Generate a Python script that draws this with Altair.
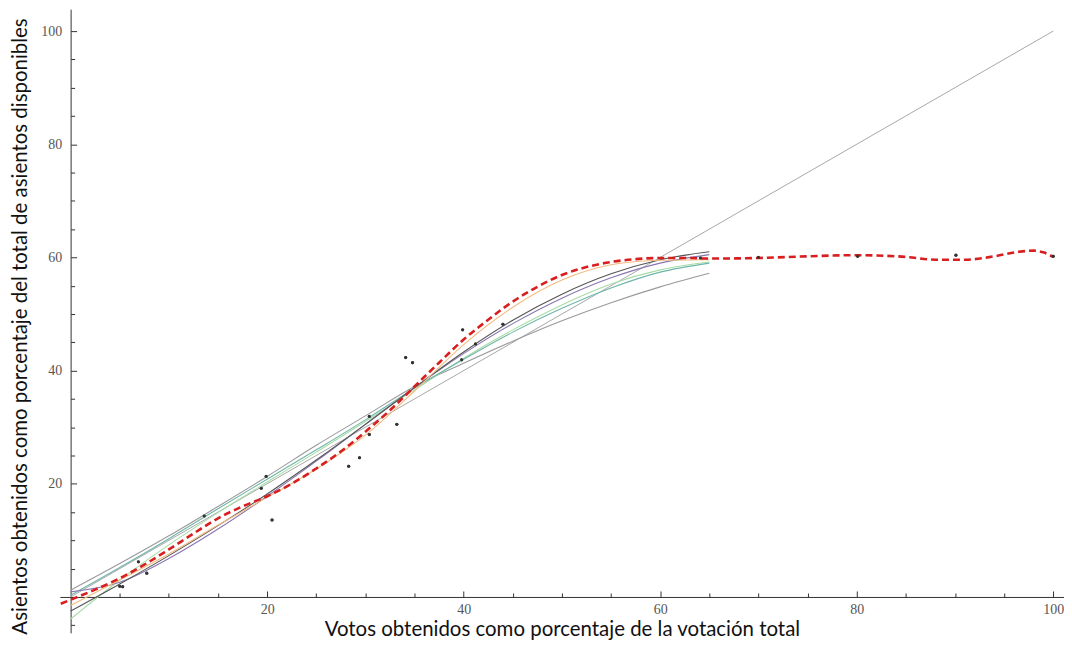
import altair as alt
import pandas as pd

# ---------------- data ----------------
point_x = [5.0, 5.3, 6.9, 7.75, 13.6, 19.4, 19.9, 20.5, 28.3, 29.4, 30.4, 30.4, 33.2,
           34.1, 34.8, 39.8, 39.9, 41.2, 44.0, 64.1, 70.0, 80.1, 90.1, 100.0]
point_y = [1.9, 1.8, 6.2, 4.2, 14.3, 19.2, 21.3, 13.6, 23.1, 24.6, 28.7, 31.9, 30.5,
           42.3, 41.4, 41.9, 47.2, 44.7, 48.2, 59.9, 60.0, 60.2, 60.4, 60.2]

diag_x = [0, 100]
diag_y = [0, 100]

fit_x = [0, 5, 10, 15, 20, 25, 30, 35, 40, 45, 50, 55, 60, 65]
fit_gray = [1.2, 5.9, 10.8, 16.0, 21.3, 26.8, 32.0, 37.2, 41.3, 45.2, 48.8, 52.0, 54.8, 57.2]
fit_green = [-3.9, 3.0, 9.2, 14.9, 20.3, 25.6, 31.0, 36.6, 42.2, 47.2, 51.6, 55.3, 57.8, 59.2]
fit_teal = [0.3, 5.2, 10.3, 15.6, 20.8, 26.0, 31.3, 36.9, 42.0, 46.8, 51.0, 54.6, 57.4, 59.0]
fit_purple = [0.9, 2.6, 6.8, 12.0, 17.8, 24.0, 30.5, 37.0, 43.0, 48.3, 52.8, 56.4, 59.0, 60.5]
fit_dark = [-2.5, 2.3, 7.3, 12.6, 18.2, 24.2, 30.5, 37.0, 43.3, 48.9, 53.5, 57.1, 59.6, 61.0]
fit_orange = [-1.5, 3.0, 7.6, 12.7, 17.6, 22.6, 28.6, 36.4, 44.6, 51.2, 56.0, 58.7, 59.5, 59.6]

red_x = [-1, 0, 2.5, 5, 7.5, 10, 12.5, 15, 17.5, 20, 22.5, 25, 27.5, 30, 32.5, 35, 37.5,
         40, 42.5, 45, 47.5, 50, 52.5, 55, 57.5, 60, 62.5, 65, 70, 75, 80, 85, 88, 91,
         94, 96.5, 98, 99, 100]
red_y = [-1.2, -0.5, 1.3, 3.3, 5.7, 8.4, 11.2, 13.9, 16.0, 17.8, 20.0, 22.7, 25.7, 29.2,
         33.0, 37.2, 41.4, 45.5, 49.0, 52.2, 54.8, 56.9, 58.3, 59.2, 59.7, 59.9, 59.9,
         59.8, 59.9, 60.2, 60.4, 60.1, 59.6, 59.6, 60.2, 61.0, 61.2, 60.9, 60.1]

x_ticks = list(range(5, 101, 5))
x_labels = [20, 40, 60, 80, 100]
y_ticks = list(range(-5, 101, 5))
y_labels = [20, 40, 60, 80, 100]

X_TITLE = "Votos obtenidos como porcentaje de la votación total"
Y_TITLE = "Asientos obtenidos como porcentaje del total de asientos disponibles"

# ---------------- layout ----------------
W, H = 1008, 626
X_DOMAIN = [-1.1, 101.1]
Y_DOMAIN = [-6.34, 103.87]
x0_px = (0 - X_DOMAIN[0]) / (X_DOMAIN[1] - X_DOMAIN[0]) * W
y0_px = (Y_DOMAIN[1] - 0) / (Y_DOMAIN[1] - Y_DOMAIN[0]) * H
TITLE_SIZE = 20.5

xs = alt.Scale(domain=X_DOMAIN, nice=False, zero=False)
ys = alt.Scale(domain=Y_DOMAIN, nice=False, zero=False)

tick_size = {"condition": {"test": "datum.value % 20 === 0", "value": 6}, "value": 4}

points_df = pd.DataFrame({"x": point_x, "y": point_y})
diag_df = pd.DataFrame({"x": diag_x, "y": diag_y})

series = [("gray", fit_gray), ("green", fit_green), ("teal", fit_teal),
          ("purple", fit_purple), ("dark", fit_dark), ("orange", fit_orange)]
rows = []
for name, vals in series:
    for xv, yv in zip(fit_x, vals):
        rows.append({"x": xv, "y": yv, "serie": name})
fits_df = pd.DataFrame(rows)
red_df = pd.DataFrame({"x": red_x, "y": red_y})

# labels axis layer (bottom / left), placed on the zero lines
label_layer = alt.Chart(points_df).mark_circle(size=9, color="#333333", opacity=1).encode(
    x=alt.X("x:Q", scale=xs, axis=alt.Axis(
        orient="bottom", offset=-(H - y0_px), values=x_labels, ticks=False, domain=False,
        grid=False, labelFont="Liberation Serif", labelFontSize=14, labelColor="#555555",
        labelPadding=6, title=X_TITLE, titleFont="Lato", titleFontSize=TITLE_SIZE,
        titleFontWeight="normal", titleColor="#111111", titleX=504,
        titleY=(631 - 598), titleBaseline="middle", titleAlign="center")),
    y=alt.Y("y:Q", scale=ys, axis=alt.Axis(
        orient="left", offset=-x0_px, values=y_labels, ticks=False, domain=False,
        grid=False, labelFont="Liberation Serif", labelFontSize=14, labelColor="#555555",
        labelPadding=9, title=Y_TITLE, titleFont="Lato", titleFontSize=TITLE_SIZE,
        titleFontWeight="normal", titleColor="#111111", titleX=21 - (60 + x0_px),
        titleY=326 - 8, titleBaseline="middle", titleAlign="center", titleAngle=270)),
)

# ticks + axis lines layer (top / right orient so ticks point into the plot)
tick_layer = alt.Chart(diag_df).mark_line(color="#a8a8a8", strokeWidth=1).encode(
    x=alt.X("x:Q", scale=xs, axis=alt.Axis(
        orient="top", offset=-y0_px, values=x_ticks, labels=False, ticks=True,
        tickSize=tick_size, tickColor="#333333", domain=True, domainColor="#333333",
        grid=False, title="")),
    y=alt.Y("y:Q", scale=ys, axis=alt.Axis(
        orient="right", offset=-(W - x0_px), values=y_ticks, labels=False, ticks=True,
        tickSize=tick_size, tickColor="#333333", domain=True, domainColor="#333333",
        grid=False, title="")),
)

fits = alt.Chart(fits_df).mark_line(strokeWidth=1.1, interpolate="monotone").encode(
    x=alt.X("x:Q", scale=xs, axis=None),
    y=alt.Y("y:Q", scale=ys, axis=None),
    color=alt.Color("serie:N", legend=None, scale=alt.Scale(
        domain=["gray", "green", "teal", "purple", "dark", "orange"],
        range=["#9a9a9a", "#a6dca6", "#6fb5aa", "#8a76b2", "#555555", "#f3bb80"])),
    detail="serie:N",
)

red = alt.Chart(red_df).mark_line(color="#d81e1e", strokeWidth=2.6, strokeDash=[7, 4],
                                  interpolate="monotone").encode(
    x=alt.X("x:Q", scale=xs, axis=None),
    y=alt.Y("y:Q", scale=ys, axis=None),
)

dots = alt.Chart(points_df).mark_circle(size=10, color="#333333", opacity=1).encode(
    x=alt.X("x:Q", scale=xs, axis=None),
    y=alt.Y("y:Q", scale=ys, axis=None),
)

chart = alt.layer(label_layer, tick_layer, fits, red, dots).resolve_axis(
    x="independent", y="independent"
).properties(
    width=W, height=H,
    background="white",
    autosize=alt.AutoSizeParams(type="none"),
    padding={"left": 52, "top": 0, "right": 0, "bottom": 8},
).configure_view(strokeWidth=0, strokeOpacity=0)

chart.save("out.html", embed_options={"renderer": "svg", "actions": False})
